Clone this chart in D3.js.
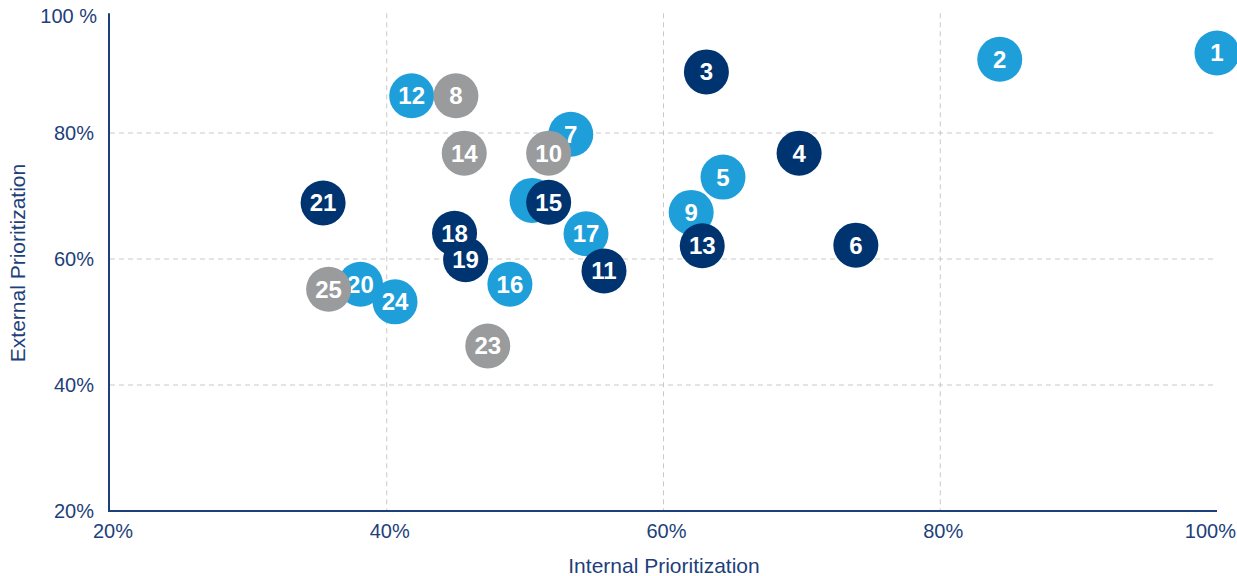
<!DOCTYPE html>
<meta charset="utf-8">

<style>
  body { margin: 0; background: white; }
  text { font-family: "Liberation Sans", Arial, sans-serif; }
  .tick-label { fill: #1d3f7a; font-size: 20px; }
  .axis-title { fill: #1d3f7a; font-size: 21px; }
  .grid { stroke: #c9c9c9; stroke-width: 1; stroke-dasharray: 5,4; }
  .bubble-label { fill: white; font-size: 24px; font-weight: bold; }
</style>

<body>
  <script src="https://cdn.jsdelivr.net/npm/d3@7"></script>

  <script>
    var width = 1237,
        height = 576;

    // series, drawn in this order (later ones sit on top)
    var lightLabels = ["1", "2", "5", "7", "9", "12", "", "16", "17", "20", "24"];
    var lightX      = [100, 84.3, 64.3, 53.3, 62.0, 41.8, 50.5, 48.9, 54.4, 38.1, 40.6];
    var lightY      = [92.7, 91.7, 73.0, 79.8, 67.4, 85.9, 69.3, 56.0, 64.0, 56.0, 53.2];

    var darkLabels = ["3", "4", "6", "11", "13", "15", "18", "19", "21"];
    var darkX      = [63.1, 69.8, 73.9, 55.7, 62.8, 51.7, 44.9, 45.7, 35.4];
    var darkY      = [89.7, 76.8, 62.2, 58.1, 62.1, 69.0, 64.1, 59.9, 68.9];

    var greyLabels = ["8", "10", "14", "23", "25"];
    var greyX      = [45.0, 51.7, 45.6, 47.3, 35.8];
    var greyY      = [85.9, 76.8, 76.8, 46.2, 55.2];

    var xTicks = [20, 40, 60, 80, 100];
    var yTicks = [20, 40, 60, 80];
    var yTopLabel = "100 %";
    var yMax = 99;

    var svg = d3.select("body").append("svg")
                .attr("width", width)
                .attr("height", height);

    var x = d3.scaleLinear().domain([20, 100]).range([110, 1217]);
    var y = d3.scaleLinear().domain([20, 80]).range([511, 133]);

    // grid lines
    svg.selectAll(".vgrid")
       .data(xTicks.filter(function(d) { return d > 20 && d < 100; }))
       .enter().append("line")
       .attr("class", "grid")
       .attr("x1", function(d) { return x(d); })
       .attr("x2", function(d) { return x(d); })
       .attr("y1", y(yMax))
       .attr("y2", y(20));

    svg.selectAll(".hgrid")
       .data(yTicks.filter(function(d) { return d > 20; }))
       .enter().append("line")
       .attr("class", "grid")
       .attr("x1", x(20))
       .attr("x2", x(100))
       .attr("y1", function(d) { return y(d); })
       .attr("y2", function(d) { return y(d); });

    // axes lines
    svg.append("line")
       .attr("x1", x(20) - 1).attr("x2", x(20) - 1)
       .attr("y1", y(yMax)).attr("y2", y(20))
       .attr("stroke", "#1d3f7a").attr("stroke-width", 2);
    svg.append("line")
       .attr("x1", x(20) - 2).attr("x2", x(100))
       .attr("y1", y(20)).attr("y2", y(20))
       .attr("stroke", "#1d3f7a").attr("stroke-width", 2);

    // tick labels
    svg.selectAll(".xlab")
       .data(xTicks)
       .enter().append("text")
       .attr("class", "tick-label")
       .attr("x", function(d) { return d === 100 ? width - 1 : x(d) + 3; })
       .attr("y", 538)
       .attr("text-anchor", function(d) { return d === 100 ? "end" : "middle"; })
       .text(function(d) { return d + "%"; });

    svg.selectAll(".ylab")
       .data(yTicks)
       .enter().append("text")
       .attr("class", "tick-label")
       .attr("x", 94)
       .attr("y", function(d) { return y(d) + 7; })
       .attr("text-anchor", "end")
       .text(function(d) { return d + "%"; });

    svg.append("text")
       .attr("class", "tick-label")
       .attr("x", 97)
       .attr("y", y(yMax) + 10)
       .attr("text-anchor", "end")
       .text(yTopLabel);

    // axis titles
    svg.append("text")
       .attr("class", "axis-title")
       .attr("x", 664)
       .attr("y", 573)
       .attr("text-anchor", "middle")
       .text("Internal Prioritization");

    svg.append("text")
       .attr("class", "axis-title")
       .attr("transform", "translate(25,263) rotate(-90)")
       .attr("text-anchor", "middle")
       .text("External Prioritization");

    // bubbles: each series draws its circles, then its labels
    var series = [
      { color: "#1f9fda", labels: lightLabels, xs: lightX, ys: lightY },
      { color: "#003470", labels: darkLabels, xs: darkX, ys: darkY },
      { color: "#9a9b9d", labels: greyLabels, xs: greyX, ys: greyY }
    ];

    series.forEach(function(s) {
      var pts = s.labels.map(function(l, i) { return { label: l, x: s.xs[i], y: s.ys[i] }; });
      var g = svg.append("g");
      g.selectAll("circle")
       .data(pts)
       .enter().append("circle")
       .attr("cx", function(d) { return x(d.x); })
       .attr("cy", function(d) { return y(d.y); })
       .attr("r", 22.5)
       .attr("fill", s.color);
      g.selectAll("text")
       .data(pts)
       .enter().append("text")
       .attr("class", "bubble-label")
       .attr("x", function(d) { return x(d.x); })
       .attr("y", function(d) { return y(d.y) + 8.5; })
       .attr("text-anchor", "middle")
       .text(function(d) { return d.label; });
    });
  </script>
</body>
